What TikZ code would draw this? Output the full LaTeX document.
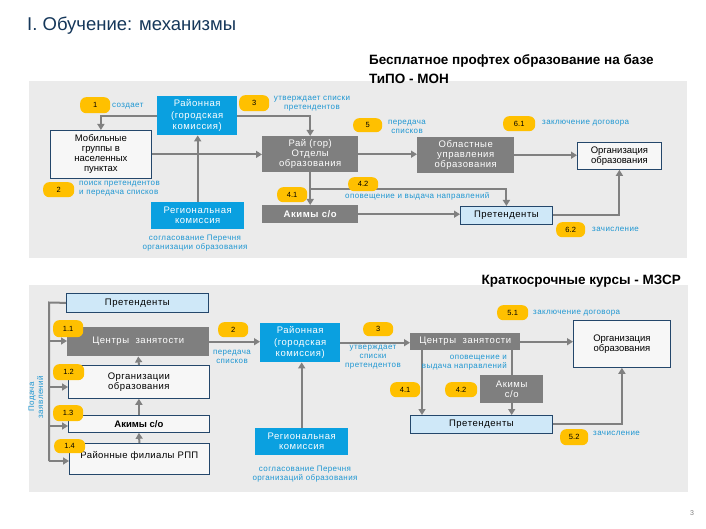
\documentclass[tikz,border=0pt]{standalone}
\usepackage{fontspec}
\setmainfont{Liberation Sans}
\usetikzlibrary{arrows.meta,calc}
\definecolor{panelgray}{HTML}{EBEBEB}
\definecolor{boxblue}{HTML}{0AA0E0}
\definecolor{boxgray}{HTML}{7F7F7F}
\definecolor{badgeor}{HTML}{FFC000}
\definecolor{lblblue}{HTML}{1E96D2}
\definecolor{navyb}{HTML}{24476B}
\definecolor{ltblue}{HTML}{CFE8F8}
\definecolor{arrgray}{HTML}{808080}
\definecolor{titlenavy}{HTML}{15375A}
\newcommand{\bx}[7]{\node[#1,anchor=north west,minimum width={(#5-#3)*1pt},minimum height={(#6-#4)*1pt}] (#2) at (#3,#4) {#7};}
\begin{document}
\begin{tikzpicture}[x=1pt,y=-1pt,
  panel/.style={fill=panelgray,draw=none},
  basebox/.style={inner sep=0pt,align=center,font=\fontsize{9.5}{10}\selectfont},
  spc/.style={font=\fontsize{9.5}{10}\selectfont\addfontfeature{LetterSpace=6}},
  bluebox/.style={basebox,spc,fill=boxblue,text=white},
  graybox/.style={basebox,spc,fill=boxgray,text=white},
  whitebox/.style={basebox,fill=white!60!panelgray,draw=navyb,line width=0.8pt,text=black},
  ltbox/.style={basebox,spc,fill=ltblue,draw=navyb,line width=0.8pt,text=black},
  badge/.style={inner sep=0pt,fill=badgeor,rounded corners=6pt,text=black,font=\fontsize{7.5}{8}\selectfont},
  lbl/.style={inner sep=0pt,text=lblblue,font=\fontsize{8}{9}\selectfont\addfontfeature{LetterSpace=5}},
  arr/.style={draw=arrgray,line width=2pt,-{Triangle[length=6pt,width=7pt]}},
  ln/.style={draw=arrgray,line width=2pt}]
\useasboundingbox (0,0) rectangle (706,529);
\fill[white] (0,0) rectangle (706,529);
% panels
\fill[panel] (29,81) rectangle (687,258);
\fill[panel] (29,285) rectangle (688,492);
% titles
\node[anchor=base west,inner sep=0pt,text=titlenavy,font=\fontsize{18.5}{20}\selectfont] (title) at (27,31) {I. Обучение: механизмы};
\node[anchor=north west,inner sep=0pt,align=left,font=\bfseries\fontsize{13.5}{19}\selectfont] (h1) at (369,54) {Бесплатное профтех образование на базе\\ТиПО - МОН};
\node[anchor=base east,inner sep=0pt,font=\bfseries\fontsize{13.5}{15}\selectfont] (h2) at (681,284) {Краткосрочные курсы - МЗСР};
\node[anchor=center,inner sep=0pt,text=gray,font=\fontsize{7}{8}\selectfont] (pg) at (692,513) {3};

% ---------- top panel boxes
\bx{bluebox}{rk}{157}{96}{237}{135}{Районная\\[1.5pt](городская\\[1.5pt]комиссия)}
\bx{whitebox}{mob}{50}{130}{151}{178}{Мобильные\\группы в\\населенных\\пунктах}
\bx{bluebox}{reg}{151}{202}{244}{229}{Региональная\\комиссия}
\bx{graybox}{rayon}{262}{136}{358}{172}{Рай (гор)\\Отделы\\образования}
\bx{graybox}{akim}{262}{205}{358}{223}{\bfseries Акимы с/о}
\bx{graybox}{obl}{417}{137}{514}{173}{Областные\\управления\\образования}
\bx{whitebox}{org}{577}{142}{661}{169}{Организация\\образования}
\bx{ltbox}{pret}{460}{206}{552}{224}{Претенденты}

% top connectors
\draw[arr] (rk.west) -| (mob.north);
\draw[arr] (rk.east) -| (rayon.north);
\draw[arr] (mob.east) -- (mob.east -| rayon.west);
\draw[arr] (reg.north) -- (reg.north |- rk.south);
\draw[arr] (rayon.south) -- (akim.north);
\coordinate (br) at (310,189);
\draw[arr] (br) -| (pret.north);
\draw[arr] (rayon.east) -- (rayon.east -| obl.west);
\draw[arr] (obl.east) -- (obl.east -| org.west);
\draw[arr] (akim.east) -- (akim.east -| pret.west);
\draw[arr] (pret.east) -| (org.south);

% top badges
\bx{badge}{b1}{80}{97}{110}{113}{1}
\bx{badge}{b3}{239}{95}{269}{111}{3}
\bx{badge}{b5}{353}{118}{382}{132}{5}
\bx{badge}{b61}{503}{116}{535}{131}{6.1}
\bx{badge}{b2}{43}{182}{74}{197}{2}
\bx{badge}{b41}{277}{187}{307}{202}{4.1}
\bx{badge}{b42}{348}{177}{378}{191}{4.2}
\bx{badge}{b62}{556}{222}{585}{237}{6.2}

% top labels
\node[lbl,anchor=west] (t1) at (112,106) {создает};
\node[lbl,align=center] (t3) at (312,104) {утверждает списки\\претендентов};
\node[lbl,anchor=west,align=left] (t2) at (79,188.5) {поиск претендентов\\и передача списков};
\node[lbl,align=center] (treg) at (195,243) {согласование Перечня\\организации образования};
\node[lbl,align=center] (t5) at (407,127) {передача\\списков};
\node[lbl,anchor=west] (t61) at (542,123) {заключение договора};
\node[lbl,anchor=west] (t42) at (345,196) {оповещение и выдача  направлений};
\node[lbl,anchor=west] (t62) at (592,229) {зачисление};

% ---------- bottom panel
\coordinate (L0) at (49,302.5);
\coordinate (L1) at (49,341);
\coordinate (L2) at (49,387);
\coordinate (L3) at (49,426);
\coordinate (L4) at (49,461);
\bx{ltbox}{ptop}{66}{293}{208}{312}{Претенденты}
\bx{graybox}{cz1}{67}{327}{209}{356}{Центры\ \ занятости}
\bx{whitebox}{org1}{68}{365}{209}{398}{\addfontfeature{LetterSpace=5}Организации\\\addfontfeature{LetterSpace=5}образования}
\bx{whitebox}{akim2}{68}{415}{209}{432}{\bfseries Акимы с/о}
\bx{whitebox}{rpp}{69}{443}{209}{474}{\addfontfeature{LetterSpace=4}Районные филиалы РПП\\[-3pt]}
\bx{bluebox}{rk2}{260}{323}{340}{362}{Районная\\[1.5pt](городская\\[1.5pt]комиссия)}
\bx{bluebox}{reg2}{255}{428}{348}{455}{Региональная\\комиссия}
\bx{graybox}{cz2}{410}{333}{520}{350}{Центры\ \ занятости}
\bx{whitebox}{org2}{573}{320}{670}{367}{Организация\\образования}
\bx{graybox}{akim3}{480}{375}{543}{403}{Акимы\\с/о}
\bx{ltbox}{pret2}{410}{415}{552}{433}{Претенденты}

% bottom connectors
\draw[ln] (ptop.west) -- (L0) -- (L4);
\draw[arr] (L1) -- (L1 -| cz1.west);
\draw[arr] (L2) -- (L2 -| org1.west);
\draw[arr] (L3) -- (L3 -| akim2.west);
\draw[arr] (L4) -- (L4 -| rpp.west);
\draw[arr] (rpp.north) -- (akim2.south);
\draw[arr] (akim2.north) -- (org1.south);
\draw[arr] (org1.north) -- (cz1.south);
\draw[arr] (cz1.east) -- (cz1.east -| rk2.west);
\draw[arr] (reg2.north) -- (reg2.north |- rk2.south);
\draw[arr] (rk2.east) -- (rk2.east -| cz2.west);
\draw[arr] (cz2.east) -- (cz2.east -| org2.west);
\coordinate (c41) at (422,350);
\draw[arr] (c41) -- (c41 |- pret2.north);
\draw[ln] (cz2.south -| akim3.north) -- (akim3.north);
\draw[arr] (akim3.south) -- (akim3.south |- pret2.north);
\draw[arr] (pret2.east) -| (org2.south);

% bottom badges
\bx{badge}{c11}{53}{320}{83}{337}{1.1}
\bx{badge}{c12}{53}{364}{84}{380}{1.2}
\bx{badge}{c13}{53}{405}{83}{421}{1.3}
\bx{badge}{c14}{54}{439}{85}{453}{1.4}
\bx{badge}{c2}{218}{322}{248}{337}{2}
\bx{badge}{c3}{363}{322}{393}{336}{3}
\bx{badge}{c51}{497}{305}{528}{320}{5.1}
\bx{badge}{c41b}{390}{382}{420}{397}{4.1}
\bx{badge}{c42}{445}{382}{477}{397}{4.2}
\bx{badge}{c52}{560}{429}{588}{445}{5.2}

% bottom labels
\node[lbl,align=center] (u2) at (232,357) {передача\\списков};
\node[lbl,align=center] (ureg) at (305,474) {согласование Перечня\\организаций образования};
\node[lbl,align=center] (u3) at (373,357.5) {утверждает\\списки\\претендентов};
\node[lbl,anchor=west] (u51) at (533,313) {заключение договора};
\node[lbl,anchor=east,align=right] (u4) at (507,363) {оповещение и\\выдача направлений};
\node[lbl,anchor=west] (u52) at (593,433) {зачисление};
\node[lbl,align=center,rotate=90] (upod) at (36,397) {Подача\\заявлений};
\end{tikzpicture}
\end{document}
